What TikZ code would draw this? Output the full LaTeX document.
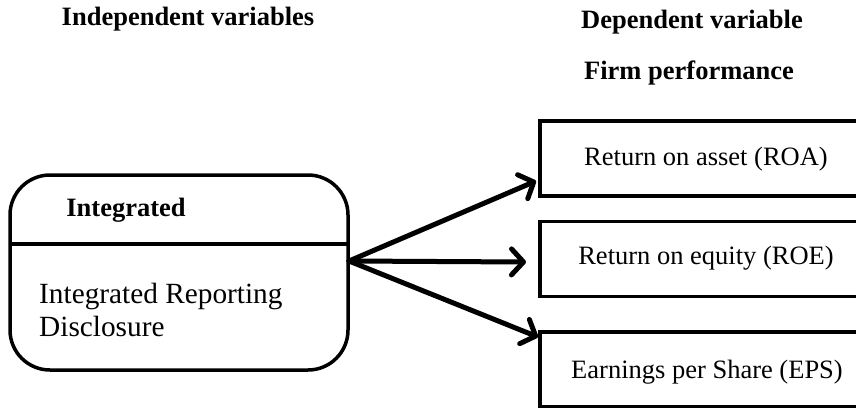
\documentclass[tikz,border=0pt]{standalone}
\usepackage{fontspec}
\setmainfont{Liberation Serif}
\usetikzlibrary{arrows.meta}
\tikzset{
  boxline/.style={draw=black, line width=3.5pt},
  depbox/.style={boxline, rectangle, minimum width=332pt, minimum height=75pt, inner sep=0pt,
    font=\fontsize{26.5}{30}\selectfont},
  indepbox/.style={boxline, rectangle, rounded corners=40pt, minimum width=338pt, minimum height=195pt, inner sep=0pt},
  heading/.style={font=\fontsize{26.5}{30}\selectfont\bfseries, inner sep=0pt},
  bigarrow/.style={line width=5pt, line cap=round, -{Straight Barb[length=12pt, width=26pt, line cap=round, line join=round]}}
}
\begin{document}
\begin{tikzpicture}[x=1pt, y=-1pt]
\useasboundingbox (0,0) rectangle (856,407);
\clip (0,0) rectangle (856,407);
\fill[white] (0,0) rectangle (856,407);
% headings
\node[heading] (hind) at (188,19) {Independent variables};
\node[heading] (hdep) at (692,22) {Dependent variable};
\node[heading] (hfirm) at (689,73) {Firm performance};
% left box
\node[indepbox] (indep) at (179,272.5) {};
\coordinate (divl) at (10,244);
\coordinate (divr) at (348,244);
\draw[boxline] (divl) -- (divr);
\node[heading] (intitle) at (126,210) {Integrated};
\node[anchor=north west, inner sep=0pt, align=left, font=\fontsize{29.3}{33}\selectfont] (intext) at (39,283) {Integrated Reporting\\Disclosure};
% right boxes
\node[depbox] (roa) at (706,158.5) {};
\node[depbox] (roe) at (706,259) {};
\node[depbox] (eps) at (706,369.5) {};
\node[font=\fontsize{26.5}{30}\selectfont, inner sep=0pt] (roat) at (706,159) {Return on asset (ROA)};
\node[font=\fontsize{26.5}{30}\selectfont, inner sep=0pt] (roet) at (706,258) {Return on equity (ROE)};
\node[font=\fontsize{26.5}{30}\selectfont, inner sep=0pt] (epst) at (707,372) {Earnings per Share (EPS)};
% arrows
\coordinate (o) at (349,261);
\coordinate (t1) at (536,181);
\coordinate (t2) at (526,262);
\coordinate (t3) at (538,337);
\draw[bigarrow] (o) -- (t1);
\draw[bigarrow] (o) -- (t2);
\draw[bigarrow] (o) -- (t3);
\end{tikzpicture}
\end{document}
